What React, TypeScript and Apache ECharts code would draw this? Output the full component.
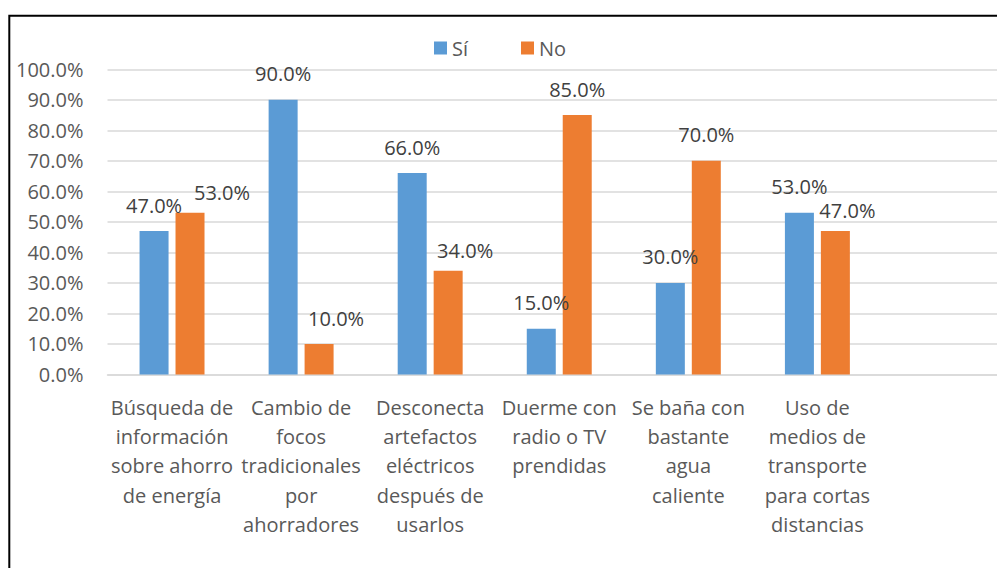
import React, { useEffect, useRef } from "react";
import * as echarts from "echarts";

// Categories (7th slot is an empty category present in the original plot area)
const categories: string[] = [
  "Búsqueda de\ninformación\nsobre ahorro\nde energía",
  "Cambio de\nfocos\ntradicionales\npor\nahorradores",
  "Desconecta\nartefactos\neléctricos\ndespués de\nusarlos",
  "Duerme con\nradio o TV\nprendidas",
  "Se baña con\nbastante\nagua\ncaliente",
  "Uso de\nmedios de\ntransporte\npara cortas\ndistancias",
  "",
];

const seriesNames: string[] = ["Sí", "No"];
const siValues: (number | null)[] = [47, 90, 66, 15, 30, 53, null];
const noValues: (number | null)[] = [53, 10, 34, 85, 70, 47, null];

const yMin = 0;
const yMax = 100;
const yInterval = 10;

// Manual nudges of some data labels (as placed in the original chart), [dx, dy] in px
const siLabelOffsets: number[][] = [[0, 0], [0, 0], [0, 0], [0, 0], [0, 0], [0, 0], [0, 0]];
const noLabelOffsets: number[][] = [[32, 6], [17, 1], [17, 5.5], [0, 0], [0, 0], [12, 5.5], [0, 0]];

const FONT = "'Open Sans', sans-serif";

export default function App() {
  const ref = useRef<HTMLDivElement>(null);

  useEffect(() => {
    if (!ref.current) return;
    const chart = echarts.init(ref.current, null, { renderer: "svg" });

    const label = {
      show: true,
      position: "top" as const,
      distance: 16,
      fontFamily: FONT,
      fontSize: 20,
      color: "#404040",
      formatter: (p: any) => (p.value == null || p.value === "-" ? "" : Number(p.value).toFixed(1) + "%"),
    };

    const build = (vals: (number | null)[], offs: number[][]) =>
      vals.map((v, i) => ({
        value: v == null ? "-" : v,
        label: { offset: offs[i] },
      }));

    chart.setOption({
      animation: false,
      backgroundColor: "#ffffff",
      graphic: [
        {
          type: "rect",
          silent: true,
          z: -10,
          shape: { x: 9.3, y: 15.8, width: 1400, height: 900 },
          style: { fill: "none", stroke: "#000000", lineWidth: 2 },
        },
      ],
      legend: {
        data: seriesNames,
        left: 434,
        top: 38,
        padding: 0,
        icon: "rect",
        itemWidth: 13,
        itemHeight: 13,
        itemGap: 53,
        textStyle: { fontFamily: FONT, fontSize: 20, color: "#595959" },
      },
      grid: {
        left: 107.5,
        top: 69.3,
        right: 0,
        bottom: 568 - 374.5,
        containLabel: false,
      },
      xAxis: {
        type: "category",
        data: categories,
        axisLine: { show: true, lineStyle: { color: "#d9d9d9", width: 1.5 } },
        axisTick: { show: false },
        axisLabel: {
          interval: 0,
          margin: 18,
          fontFamily: FONT,
          fontSize: 20,
          lineHeight: 29.3,
          color: "#595959",
          align: "center",
        },
      },
      yAxis: {
        type: "value",
        min: yMin,
        max: yMax,
        interval: yInterval,
        axisLine: { show: false },
        axisTick: { show: false },
        splitLine: { show: true, lineStyle: { color: "#d9d9d9", width: 1.5 } },
        axisLabel: {
          margin: 24,
          fontFamily: FONT,
          fontSize: 20,
          color: "#595959",
          formatter: (v: number) => v.toFixed(1) + "%",
        },
      },
      series: [
        {
          name: seriesNames[0],
          type: "bar",
          data: build(siValues, siLabelOffsets),
          barWidth: 29,
          barGap: "24%",
          itemStyle: { color: "#5b9bd5" },
          label,
          silent: true,
        },
        {
          name: seriesNames[1],
          type: "bar",
          data: build(noValues, noLabelOffsets),
          barWidth: 29,
          barGap: "24%",
          itemStyle: { color: "#ed7d31" },
          label,
          silent: true,
        },
      ],
    });

    return () => chart.dispose();
  }, []);

  return (
    <div
      ref={ref}
      style={{ position: "fixed", left: 0, top: 0, width: 1011, height: 568, background: "#fff" }}
    />
  );
}
